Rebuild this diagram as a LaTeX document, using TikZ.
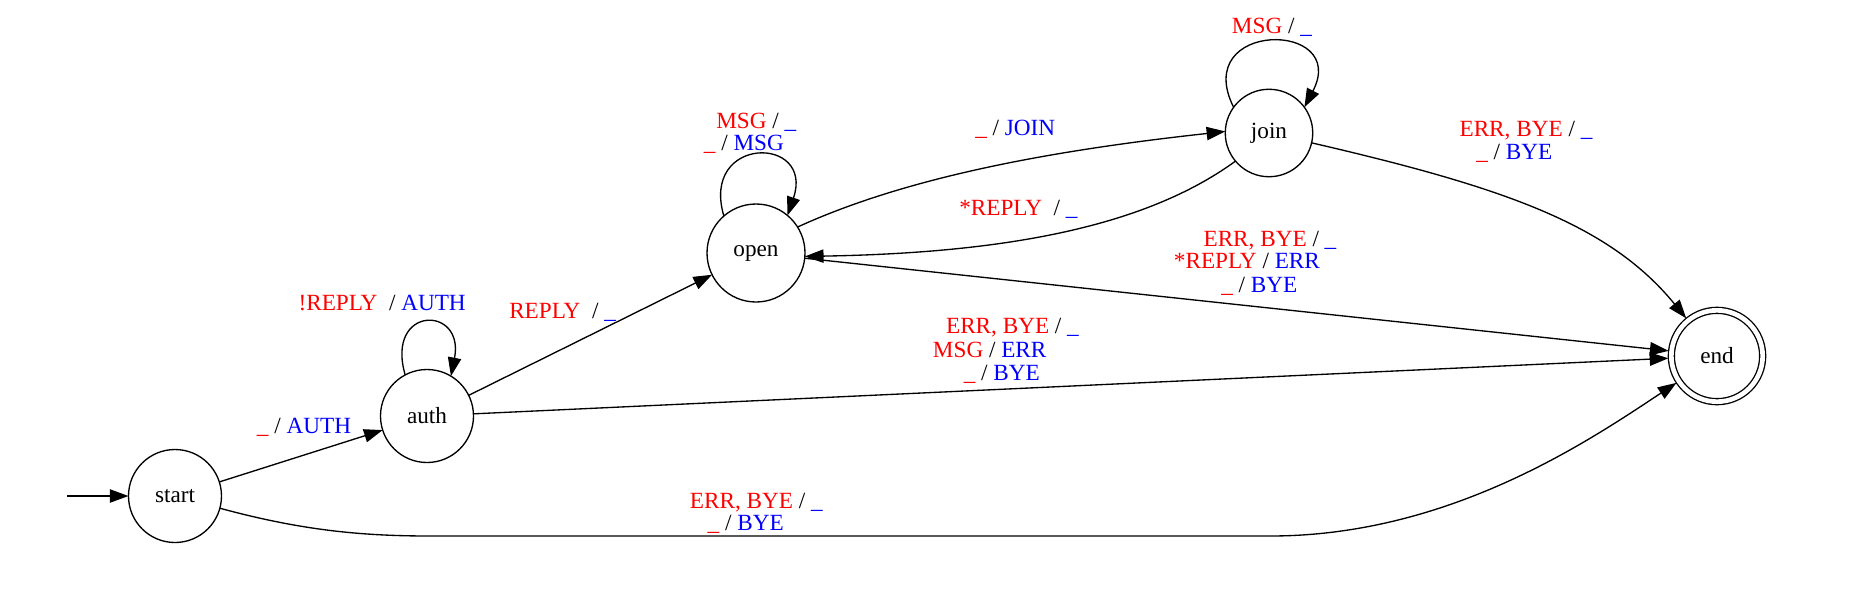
\documentclass[tikz,border=0pt]{standalone}
\usepackage{fontspec}
\setmainfont{Liberation Serif}
\usetikzlibrary{arrows.meta}
\newcommand\lbl[2]{\textcolor{red}{#1} / \textcolor{blue}{#2}}
\begin{document}
\begin{tikzpicture}[x=0.75pt,y=-0.75pt,
  state/.style={circle,draw,line width=1pt,inner sep=0pt,outer sep=0pt,font=\fontsize{17.4}{20}\selectfont},
  edge/.style={line width=1pt,-{Triangle[length=14pt,width=10pt]}},
  lab/.style={inner sep=0pt,anchor=base west,font=\fontsize{17.4}{20}\selectfont}]
\useasboundingbox (0,0) rectangle (1856,590);
% states
\node[state,minimum size=69.75pt] (s) at (175,496) {start};
\node[state,minimum size=69.75pt] (a) at (427,416) {auth};
\node[state,minimum size=73.5pt] (o) at (756,253) {open};
\node[state,minimum size=65.6pt] (j) at (1269,133) {join};
\node[state,double,double distance=3.5pt,minimum size=68.5pt,outer sep=2.25pt] (e) at (1717,356) {end};
\coordinate (init) at (67.3,496);
% edges
\draw[edge] (init) -- (s);
\draw[edge] (s) -- (a);
\draw[edge] (a.118) .. controls (385,305) and (465,305) .. (a.59);
\draw[edge] (a) -- (o);
\draw[edge] (a) -- (e);
\draw[edge] (o.131) .. controls (700,135) and (815,135) .. (o.50);
\draw[edge] (o.32) .. controls (909,176) and (1056,150) .. (j.178);
\draw[edge] (j.220) .. controls (1145,227) and (1005,253) .. (o.356);
\draw[edge] (o) -- (e);
\draw[edge] (j.144) .. controls (1190,20) and (1350,20) .. (j.36);
\draw[edge] (j) .. controls (1507,188) and (1610,225) .. (e);
\draw[edge] (s) .. controls (300,530) and (360,536) .. (430,536) -- (1270,536) .. controls (1450,536) and (1590,440) .. (e);
% labels
\node[lab] (l1) at (256.7,433.3) {\lbl{\_}{AUTH}};
\node[lab] (l2) at (298.3,310) {\lbl{!REPLY\ }{AUTH}};
\node[lab] (l3) at (509,318.3) {\lbl{REPLY\ }{\_}};
\node[lab] (l4a) at (716,128.3) {\lbl{MSG}{\_}};
\node[lab] (l4b) at (703.6,150.7) {\lbl{\_}{MSG}};
\node[lab] (l5) at (975,135) {\lbl{\_}{JOIN}};
\node[lab] (l6) at (959,215) {\lbl{*REPLY\ }{\_}};
\node[lab] (l7) at (1231.7,33.3) {\lbl{MSG}{\_}};
\node[lab] (l8a) at (1459.3,136) {\lbl{ERR, BYE}{\_}};
\node[lab] (l8b) at (1476,159.3) {\lbl{\_}{BYE}};
\node[lab] (l9a) at (1203.3,246) {\lbl{ERR, BYE}{\_}};
\node[lab] (l9b) at (1173.7,268.7) {\lbl{*REPLY}{ERR}};
\node[lab] (l9c) at (1221,292.3) {\lbl{\_}{BYE}};
\node[lab] (l10a) at (945.8,333.3) {\lbl{ERR, BYE}{\_}};
\node[lab] (l10b) at (932.7,357.7) {\lbl{MSG}{ERR}};
\node[lab] (l10c) at (963.5,380.7) {\lbl{\_}{BYE}};
\node[lab] (l11a) at (689.7,508.3) {\lbl{ERR, BYE}{\_}};
\node[lab] (l11b) at (707.4,530.7) {\lbl{\_}{BYE}};
\end{tikzpicture}
\end{document}
